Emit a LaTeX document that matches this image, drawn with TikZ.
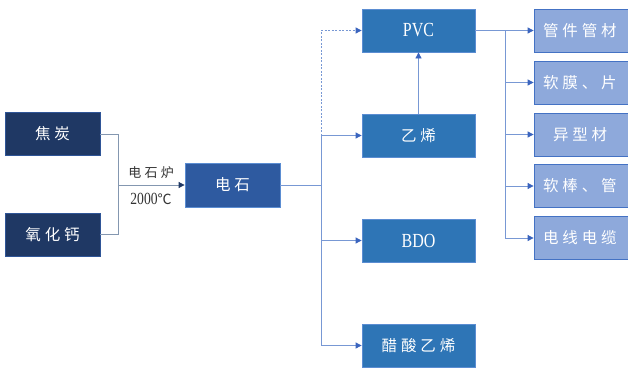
\documentclass[tikz,border=0pt]{standalone}
\usepackage{fontspec}
\setmainfont[FakeStretch=0.8]{Liberation Serif}
\newfontfamily\cjk[LetterSpace=25]{Noto Sans CJK SC}
\newfontfamily\cjkplain{Noto Sans CJK SC}
\usetikzlibrary{arrows.meta}
\definecolor{navy}{RGB}{31,56,100}
\definecolor{navyline}{RGB}{47,85,151}
\definecolor{dsblue}{RGB}{46,90,160}
\definecolor{midblue}{RGB}{46,117,182}
\definecolor{midline}{RGB}{91,141,210}
\definecolor{ltfill}{RGB}{142,169,219}
\definecolor{ltline}{RGB}{68,114,196}
\definecolor{conn}{RGB}{120,152,212}
\definecolor{tipc}{RGB}{58,100,190}
\definecolor{grayconn}{RGB}{132,151,176}
\tikzset{
  basebox/.style={minimum height=43pt, inner sep=0pt, text=white, line width=0.8pt},
  darkbox/.style={basebox, draw=navyline, fill=navy, minimum width=95pt, font=\cjk\fontsize{15.5}{18}\selectfont},
  dsbox/.style={basebox, draw=midline, fill=dsblue, minimum width=95pt, minimum height=44pt, font=\cjk\fontsize{15.5}{18}\selectfont},
  midbox/.style={basebox, draw=midline, fill=midblue, minimum width=113pt, font=\cjk\fontsize{15.5}{18}\selectfont},
  latinbox/.style={midbox, font=\fontsize{20}{22}\selectfont},
  ltbox/.style={basebox, draw=ltline, fill=ltfill, text width=88pt, align=left, inner xsep=9pt, font=\cjk\fontsize{15.5}{18}\selectfont},
  conline/.style={draw=conn, line width=0.8pt},
  conarrow/.style={conline, -{Triangle[length=6pt,width=6pt,fill=tipc,color=tipc]}},
  grayline/.style={draw=grayconn, line width=0.8pt},
  grayarrow/.style={grayline, -{Triangle[length=6pt,width=6pt,fill=navy,color=navy]}},
  lbl/.style={inner sep=0pt, text=black!80, font=\cjk\fontsize{13}{15}\selectfont}
}
\begin{document}
\begin{tikzpicture}[x=1pt,y=-1pt]
\clip (0,0) rectangle (628,367);
\fill[white] (0,0) rectangle (628,367);
% left inputs
\node[darkbox] (jt) at (52.5,134) {焦炭};
\node[darkbox] (yhg) at (52.5,234.5) {氧化钙};
\node[dsbox] (ds) at (232.5,185) {电石};
\coordinate (lj) at (118,185);
\draw[grayline] (jt.east) -| (lj);
\draw[grayline] (yhg.east) -| (lj);
\draw[grayarrow] (lj) -- (ds.west);
\node[lbl] (lab1) at (151,173) {电石炉};
\node[lbl, font=\fontsize{17}{19}\selectfont] (lab2) at (151,199) {2000{\cjkplain\fontsize{14}{16}\selectfont ℃}};
% middle products
\node[latinbox] (pvc) at (418.5,30.5) {PVC};
\node[midbox] (yx) at (418.5,135.5) {乙烯};
\node[latinbox] (bdo) at (418.5,240.5) {BDO};
\node[midbox] (cs) at (418.5,345.5) {醋酸乙烯};
\coordinate (tk) at (321,185);
\draw[conline] (ds.east) -- (tk);
\draw[conline] (yx.west -| tk) -- (cs.west -| tk);
\draw[conarrow] (yx.west -| tk) -- (yx.west);
\draw[conarrow] (bdo.west -| tk) -- (bdo.west);
\draw[conarrow] (cs.west -| tk) -- (cs.west);
\draw[conarrow, dashed, dash pattern=on 2pt off 1.5pt] (yx.west -| tk) |- (pvc.west);
\draw[conarrow] (yx.north) -- (pvc.south);
% PVC uses
\node[ltbox] (r1) at (587,30.5) {管件管材};
\node[ltbox] (r2) at (587,82.5) {软膜、片};
\node[ltbox] (r3) at (587,134.5) {\hspace*{10pt}异型材};
\node[ltbox] (r4) at (587,186) {软棒、管};
\node[ltbox] (r5) at (587,238) {电线电缆};
\coordinate (rt) at (505,30.5);
\draw[conline] (pvc.east) -- (rt);
\draw[conline] (rt) -- (r5.west -| rt);
\draw[conarrow] (rt) -- (r1.west);
\draw[conarrow] (r2.west -| rt) -- (r2.west);
\draw[conarrow] (r3.west -| rt) -- (r3.west);
\draw[conarrow] (r4.west -| rt) -- (r4.west);
\draw[conarrow] (r5.west -| rt) -- (r5.west);
\end{tikzpicture}
\end{document}
